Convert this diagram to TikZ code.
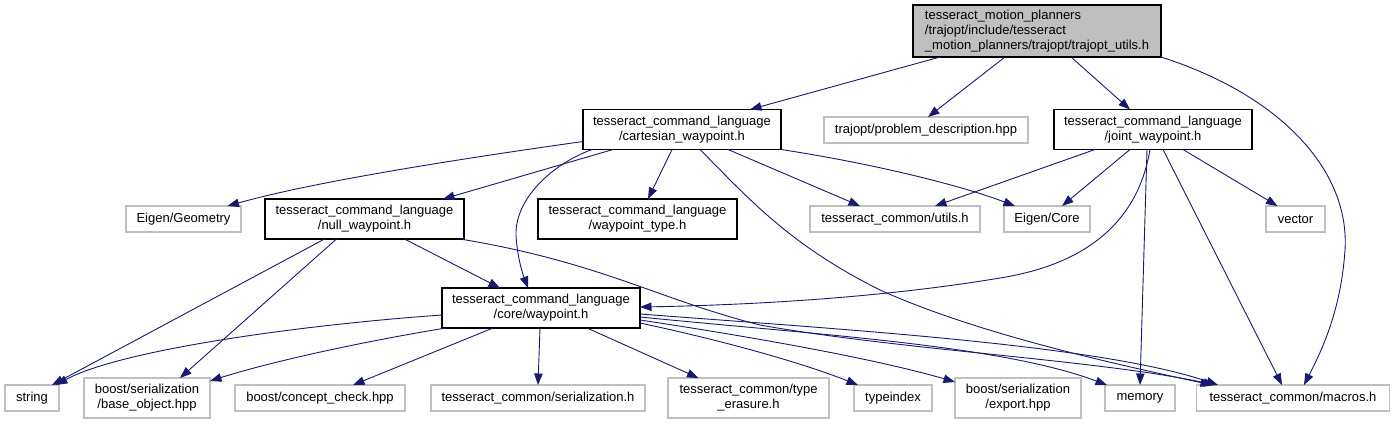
\documentclass[tikz,border=0pt]{standalone}
\usepackage{fontspec}
\setmainfont{Liberation Sans}
\usetikzlibrary{arrows.meta,calc}
\definecolor{edgeblue}{HTML}{191970}
\definecolor{grey75}{HTML}{BFBFBF}
\begin{document}
\begin{tikzpicture}[x=1pt,y=-1pt,
  every node/.style={inner sep=0pt,outer sep=0pt,font=\fontsize{13}{15}\selectfont,align=center},
  hdr/.style={draw=black,line width=1.1pt,minimum height=40pt},
  ext/.style={draw=grey75,line width=1.1pt,minimum height=26pt},
  exttwo/.style={draw=grey75,line width=1.1pt,minimum height=40pt},
  rootbox/.style={draw=black,fill=grey75,line width=1.1pt,minimum height=52pt,align=left},
  dep/.style={draw=edgeblue,line width=0.9pt,-{Triangle[length=11.5pt,width=8.5pt]}}]
\useasboundingbox (0,0) rectangle (1393,424);
% nodes
\node[rootbox,minimum width=248pt] (root) at (1037,31) {tesseract\_motion\_planners\\/trajopt/include/tesseract\\\_motion\_planners/trajopt/trajopt\_utils.h};
\node[hdr,minimum width=198pt] (cart) at (682,129.5) {tesseract\_command\_language\\/cartesian\_waypoint.h};
\node[ext,minimum width=204pt] (prob) at (926,130) {trajopt/problem\_description.hpp};
\node[hdr,minimum width=198pt] (joint) at (1153,129.5) {tesseract\_command\_language\\/joint\_waypoint.h};
\node[ext,minimum width=115pt] (geo) at (183.5,219) {Eigen/Geometry};
\node[hdr,minimum width=199pt] (null) at (364.5,219) {tesseract\_command\_language\\/null\_waypoint.h};
\node[hdr,minimum width=199pt] (wtype) at (637.5,219) {tesseract\_command\_language\\/waypoint\_type.h};
\node[ext,minimum width=170pt] (utils) at (895,219) {tesseract\_common/utils.h};
\node[ext,minimum width=86pt] (ecore) at (1047,219) {Eigen/Core};
\node[ext,minimum width=59pt] (vector) at (1295.5,219) {vector};
\node[hdr,minimum width=198pt] (core) at (541,308) {tesseract\_command\_language\\/core/waypoint.h};
\node[ext,minimum width=54pt] (string) at (32,398) {string};
\node[exttwo,minimum width=126pt] (base) at (147,398) {boost/serialization\\/base\_object.hpp};
\node[ext,minimum width=170pt] (concept) at (320,398) {boost/concept\_check.hpp};
\node[ext,minimum width=214pt] (ser) at (538,398) {tesseract\_common/serialization.h};
\node[exttwo,minimum width=161pt] (terasure) at (748.5,398) {tesseract\_common/type\\\_erasure.h};
\node[ext,minimum width=78pt] (typeidx) at (893,398) {typeindex};
\node[exttwo,minimum width=126pt] (export) at (1018,398) {boost/serialization\\/export.hpp};
\node[ext,minimum width=70pt] (memory) at (1140,398) {memory};
\node[ext,minimum width=193pt] (macros) at (1293,398) {tesseract\_common/macros.h};
% edges from root
\draw[dep] ($(root.south)+(-97,0)$) -- ($(cart.north)+(68,0)$);
\draw[dep] ($(root.south)+(-32,0)$) -- ($(prob.north)+(2,0)$);
\draw[dep] ($(root.south)+(34,0)$) -- ($(joint.north)+(-23,0)$);
\draw[dep] (root.south east) .. controls (1280,95) and (1350,170) .. (1345,250) .. controls (1341,310) and (1322,350) .. ($(macros.north)+(11,0)$);
% edges from cartesian
\draw[dep] ($(cart.west)+(0,12)$) .. controls (480,156) and (320,180) .. ($(geo.north)+(44,0)$);
\draw[dep] ($(cart.south)+(-69,0)$) -- ($(null.north)+(78.5,0)$);
\draw[dep] ($(cart.south)+(-90,0)$) .. controls (550,165) and (515,200) .. (516,235) .. controls (517,255) and (522,272) .. ($(core.north)+(-13,0)$);
\draw[dep] ($(cart.south)+(-10,0)$) -- ($(wtype.north)+(10.5,0)$);
\draw[dep] ($(cart.south)+(46,0)$) -- ($(utils.north)+(-35,0)$);
\draw[dep] (cart.south east) .. controls (870,163) and (960,185) .. ($(ecore.north)+(-32,0)$);
\draw[dep] ($(cart.south)+(18,0)$) .. controls (750,200) and (790,245) .. (880,290) .. controls (980,335) and (1120,365) .. ($(macros.north)+(-81,0)$);
% edges from null
\draw[dep] ($(null.south)+(-40,0)$) -- ($(string.north)+(20,0)$);
\draw[dep] ($(null.south)+(-28,0)$) -- ($(base.north)+(33,0)$);
\draw[dep] ($(null.south)+(40,0)$) -- ($(core.north)+(-41,0)$);
\draw[dep] ($(null.south east)+(-4,0)$) .. controls (600,262) and (660,300) .. (760,325) .. controls (900,350) and (1100,360) .. ($(macros.north)+(-78,0)$);
% edges from core
\draw[dep] ($(core.west)+(0,7)$) .. controls (300,325) and (120,350) .. ($(string.north)+(24,0)$);
\draw[dep] ($(core.south west)+(4,0)$) .. controls (360,342) and (270,362) .. ($(base.east)+(0,-17)$);
\draw[dep] ($(core.south)+(-48,0)$) -- ($(concept.north)+(33,0)$);
\draw[dep] ($(core.south)+(-1,0)$) -- (ser.north);
\draw[dep] ($(core.south)+(46,0)$) -- ($(terasure.north)+(-50,0)$);
\draw[dep] ($(core.east)+(0,15)$) .. controls (720,340) and (800,362) .. ($(typeidx.north west)+(4,0)$);
\draw[dep] ($(core.east)+(0,12)$) .. controls (760,338) and (880,360) .. ($(export.west)+(0,-16)$);
\draw[dep] ($(core.east)+(0,9)$) .. controls (820,335) and (1000,345) .. ($(memory.north west)+(2,0)$);
\draw[dep] ($(core.east)+(0,6)$) .. controls (850,330) and (1100,345) .. ($(macros.north)+(-75,0)$);
% edges from joint
\draw[dep] ($(joint.south)+(-58,0)$) -- ($(utils.north)+(40,0)$);
\draw[dep] ($(joint.south)+(-23,0)$) -- ($(ecore.north)+(15,0)$);
\draw[dep] ($(joint.south)+(30,0)$) -- ($(vector.north)+(-18,0)$);
\draw[dep] ($(joint.south)+(-3,0)$) .. controls (1140,210) and (1100,262) .. (1000,278) .. controls (880,298) and (750,305) .. ($(core.east)+(0,-1)$);
\draw[dep] ($(joint.south)+(-6,0)$) -- (memory.north);
\draw[dep] ($(joint.south)+(10,0)$) -- ($(macros.north)+(-11,0)$);
\end{tikzpicture}
\end{document}
